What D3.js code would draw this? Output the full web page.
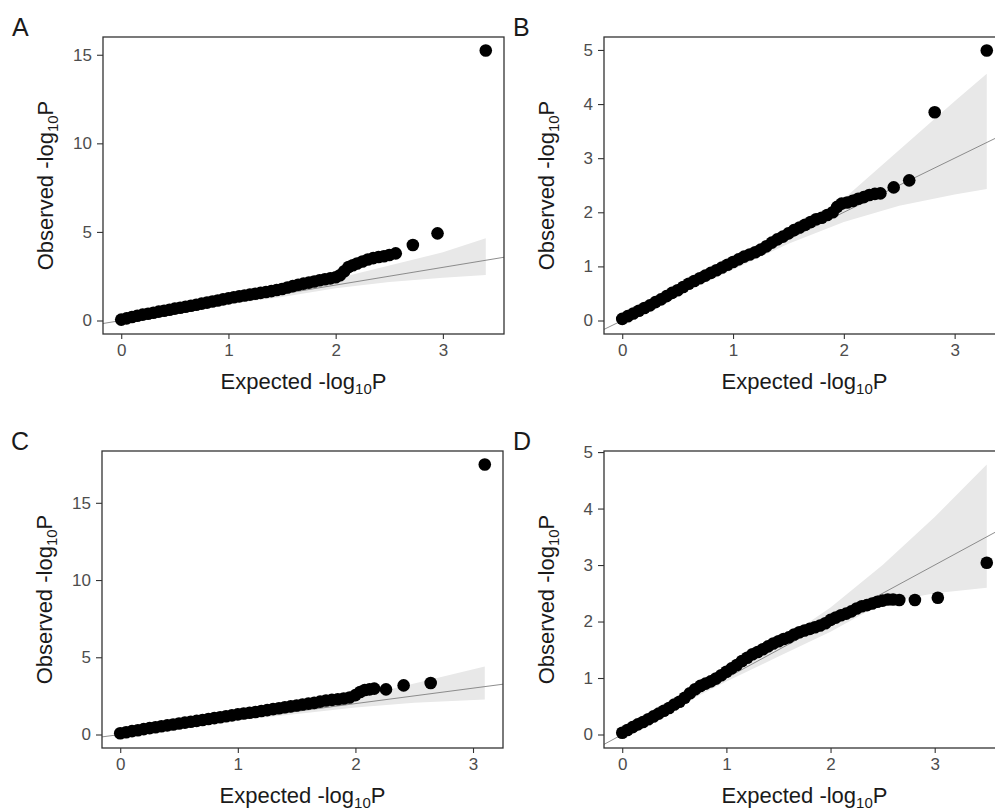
<!DOCTYPE html>
<html>
<head>
    <meta charset="utf-8">
    <script src="https://d3js.org/d3.v7.min.js"></script>
    <style>
        body { margin: 0; background: #ffffff; }
        svg { display: block; font-family: Arial, 'Liberation Sans', sans-serif; }
    </style>
</head>
<body>
<svg width="995" height="810"></svg>

<script>
    // ---- panel A ----
    let aExp = [0.00, 0.05, 0.10, 0.15, 0.20, 0.25, 0.30, 0.35, 0.40, 0.45, 0.50, 0.55, 0.60, 0.65, 0.70, 0.75, 0.80, 0.85, 0.90, 0.95,
                1.00, 1.05, 1.10, 1.15, 1.20, 1.25, 1.30, 1.35, 1.40, 1.45, 1.50, 1.55, 1.60, 1.65, 1.70, 1.75, 1.80, 1.85, 1.90, 1.95,
                2.00, 2.04, 2.08, 2.12, 2.16, 2.20, 2.25, 2.30, 2.35, 2.40, 2.45, 2.50, 2.56, 2.72, 2.95, 3.40]
    let aObs = [0.05, 0.12, 0.20, 0.27, 0.33, 0.38, 0.44, 0.50, 0.55, 0.61, 0.67, 0.72, 0.78, 0.83, 0.89, 0.95, 1.01, 1.07, 1.13, 1.19,
                1.25, 1.31, 1.36, 1.41, 1.46, 1.51, 1.56, 1.61, 1.66, 1.72, 1.78, 1.86, 1.94, 2.02, 2.08, 2.14, 2.20, 2.27, 2.33, 2.38,
                2.44, 2.55, 2.78, 3.02, 3.12, 3.22, 3.33, 3.44, 3.52, 3.58, 3.63, 3.70, 3.79, 4.26, 4.92, 15.24]
    let aBandExp = [0, 1.0, 1.5, 2.0, 2.5, 3.0, 3.40]
    let aBandLo  = [0, 0.92, 1.32, 1.82, 2.18, 2.42, 2.57]
    let aBandHi  = [0, 1.08, 1.68, 2.35, 3.10, 3.85, 4.64]

    // ---- panel B ----
    let bExp = [0.00, 0.05, 0.10, 0.15, 0.20, 0.25, 0.30, 0.35, 0.40, 0.45, 0.50, 0.55, 0.60, 0.65, 0.70, 0.75, 0.80, 0.85, 0.90, 0.95,
                1.00, 1.05, 1.10, 1.15, 1.20, 1.25, 1.30, 1.35, 1.40, 1.45, 1.50, 1.55, 1.60, 1.65, 1.70, 1.75, 1.80, 1.85, 1.90, 1.94,
                1.98, 2.03, 2.08, 2.13, 2.18, 2.23, 2.28, 2.33, 2.45, 2.59, 2.82, 3.29]
    let bObs = [0.03, 0.08, 0.13, 0.18, 0.23, 0.28, 0.34, 0.39, 0.45, 0.51, 0.56, 0.62, 0.68, 0.73, 0.78, 0.83, 0.88, 0.93, 0.98, 1.03,
                1.08, 1.13, 1.18, 1.22, 1.26, 1.31, 1.37, 1.44, 1.50, 1.55, 1.61, 1.67, 1.72, 1.77, 1.82, 1.87, 1.90, 1.95, 2.00, 2.10,
                2.16, 2.18, 2.21, 2.25, 2.28, 2.32, 2.34, 2.35, 2.46, 2.59, 3.85, 4.99]
    let bBandExp = [0, 1.0, 1.5, 2.0, 2.5, 3.0, 3.29]
    let bBandLo  = [0, 0.94, 1.42, 1.82, 2.12, 2.33, 2.43]
    let bBandHi  = [0, 1.06, 1.60, 2.25, 3.15, 4.05, 4.56]

    // ---- panel C ----
    let cExp = [0.00, 0.05, 0.10, 0.15, 0.20, 0.25, 0.30, 0.35, 0.40, 0.45, 0.50, 0.55, 0.60, 0.65, 0.70, 0.75, 0.80, 0.85, 0.90, 0.95,
                1.00, 1.05, 1.10, 1.15, 1.20, 1.25, 1.30, 1.35, 1.40, 1.45, 1.50, 1.55, 1.60, 1.65, 1.70, 1.75, 1.80, 1.85, 1.90, 1.95,
                2.00, 2.04, 2.08, 2.12, 2.16, 2.26, 2.41, 2.64, 3.10]
    let cObs = [0.08, 0.15, 0.22, 0.28, 0.35, 0.41, 0.47, 0.53, 0.59, 0.65, 0.71, 0.77, 0.83, 0.88, 0.94, 1.00, 1.06, 1.12, 1.18, 1.24,
                1.30, 1.36, 1.41, 1.46, 1.52, 1.58, 1.64, 1.70, 1.76, 1.82, 1.88, 1.94, 2.00, 2.05, 2.13, 2.20, 2.24, 2.28, 2.33, 2.40,
                2.55, 2.75, 2.88, 2.92, 2.97, 2.92, 3.18, 3.33, 17.48]
    let cBandExp = [0, 1.0, 1.5, 2.0, 2.5, 3.10]
    let cBandLo  = [0, 0.92, 1.32, 1.75, 2.05, 2.26]
    let cBandHi  = [0, 1.08, 1.68, 2.40, 3.30, 4.41]

    // ---- panel D ----
    let dExp = [0.00, 0.05, 0.10, 0.15, 0.20, 0.25, 0.30, 0.35, 0.40, 0.45, 0.50, 0.55, 0.60, 0.65, 0.70, 0.75, 0.80, 0.85, 0.90, 0.95,
                1.00, 1.05, 1.10, 1.15, 1.20, 1.25, 1.30, 1.35, 1.40, 1.45, 1.50, 1.55, 1.60, 1.65, 1.70, 1.75, 1.80, 1.85, 1.90, 1.95,
                2.00, 2.05, 2.10, 2.15, 2.20, 2.25, 2.30, 2.35, 2.40, 2.45, 2.50, 2.55, 2.60, 2.66, 2.81, 3.03, 3.50]
    let dObs = [0.03, 0.08, 0.13, 0.18, 0.22, 0.27, 0.32, 0.37, 0.42, 0.47, 0.53, 0.58, 0.65, 0.73, 0.80, 0.86, 0.90, 0.94, 0.99, 1.05,
                1.11, 1.17, 1.23, 1.30, 1.36, 1.42, 1.46, 1.51, 1.56, 1.61, 1.65, 1.69, 1.72, 1.77, 1.81, 1.84, 1.87, 1.90, 1.93, 1.97,
                2.03, 2.07, 2.11, 2.14, 2.18, 2.23, 2.27, 2.29, 2.32, 2.35, 2.37, 2.39, 2.39, 2.38, 2.38, 2.42, 3.04]
    let dBandExp = [0, 1.0, 1.5, 2.0, 2.5, 3.0, 3.50]
    let dBandLo  = [0, 0.94, 1.38, 1.82, 2.33, 2.50, 2.60]
    let dBandHi  = [0, 1.06, 1.62, 2.25, 3.00, 3.85, 4.78]

    let xTicks = [0, 1, 2, 3]
    let yTicksBig = [0, 5, 10, 15]
    let yTicksSmall = [0, 1, 2, 3, 4, 5]

    let panels = [
        { letter: "A", left: 103, top: 37,  exp: aExp, obs: aObs, bx: aBandExp, lo: aBandLo, hi: aBandHi, yTicks: yTicksBig },
        { letter: "B", left: 604, top: 37,  exp: bExp, obs: bObs, bx: bBandExp, lo: bBandLo, hi: bBandHi, yTicks: yTicksSmall },
        { letter: "C", left: 102, top: 451, exp: cExp, obs: cObs, bx: cBandExp, lo: cBandLo, hi: cBandHi, yTicks: yTicksBig },
        { letter: "D", left: 604, top: 451, exp: dExp, obs: dObs, bx: dBandExp, lo: dBandLo, hi: dBandHi, yTicks: yTicksSmall }
    ]

    let width = 401
    let height = 297
    let svg = d3.select("svg")

    panels.forEach((p, i) => {

        // ggplot style: data range plus 5% each side
        let xMax = d3.max(p.exp)
        let yMax = Math.max(d3.max(p.obs), d3.max(p.hi))
        let x = d3.scaleLinear().domain([-xMax * 0.05, xMax * 1.05]).range([0, width])
        let y = d3.scaleLinear().domain([-yMax * 0.05, yMax * 1.05]).range([height, 0])

        let g = svg.append("g").attr("transform", `translate(${p.left},${p.top})`)

        g.append("clipPath").attr("id", "clip" + i)
            .append("rect").attr("width", width).attr("height", height)

        let inner = g.append("g").attr("clip-path", `url(#clip${i})`)

        // confidence band
        let band = p.bx.map((e, k) => ({ e: e, lo: p.lo[k], hi: p.hi[k] }))
        inner.append("path")
            .datum(band)
            .attr("d", d3.area().x(d => x(d.e)).y0(d => y(d.lo)).y1(d => y(d.hi)))
            .style("fill", "#e8e8e8")

        // y = x reference, across the whole panel
        let dom = x.domain()
        inner.append("line")
            .attr("x1", x(dom[0])).attr("y1", y(dom[0]))
            .attr("x2", x(dom[1] + 2)).attr("y2", y(dom[1] + 2))
            .style("stroke", "#808080")
            .style("stroke-width", 0.9)

        // points
        inner.selectAll("circle")
            .data(p.exp.map((e, k) => [e, p.obs[k]]))
            .join("circle")
            .attr("cx", d => x(d[0]))
            .attr("cy", d => y(d[1]))
            .attr("r", 6.3)
            .style("fill", "#000000")

        // axes
        let xAxis = g.append("g")
            .attr("transform", `translate(0,${height})`)
            .call(d3.axisBottom(x).tickValues(xTicks).tickFormat(d3.format("d")).tickSize(5).tickPadding(5))
        let yAxis = g.append("g")
            .call(d3.axisLeft(y).tickValues(p.yTicks).tickFormat(d3.format("d")).tickSize(6).tickPadding(5))

        ;[xAxis, yAxis].forEach(ax => {
            ax.select(".domain").remove()
            ax.selectAll("line").style("stroke", "#333333").style("stroke-width", 1.1)
            ax.selectAll("text")
                .style("font-size", "17px")
                .style("fill", "#4d4d4d")
                .style("font-family", "Arial, 'Liberation Sans', sans-serif")
        })

        // border
        g.append("rect")
            .attr("width", width).attr("height", height)
            .style("fill", "none")
            .style("stroke", "#333333")
            .style("stroke-width", 1.3)

        // axis titles
        let xt = g.append("text")
            .attr("x", width / 2)
            .attr("y", height + 55)
            .attr("text-anchor", "middle")
            .style("font-size", "22px")
            .style("fill", "#1a1a1a")
        xt.append("tspan").text("Expected -log")
        xt.append("tspan").text("10").attr("dy", 5).style("font-size", "15px")
        xt.append("tspan").text("P").attr("dy", -5)

        let yt = g.append("text")
            .attr("transform", `translate(-50,${height / 2}) rotate(-90)`)
            .attr("text-anchor", "middle")
            .style("font-size", "22px")
            .style("fill", "#1a1a1a")
        yt.append("tspan").text("Observed -log")
        yt.append("tspan").text("10").attr("dy", 5).style("font-size", "15px")
        yt.append("tspan").text("P").attr("dy", -5)

        // panel letter
        g.append("text")
            .attr("x", -91)
            .attr("y", -1)
            .text(p.letter)
            .style("font-size", "25px")
            .style("fill", "#1a1a1a")
    })
</script>
</body>
</html>
